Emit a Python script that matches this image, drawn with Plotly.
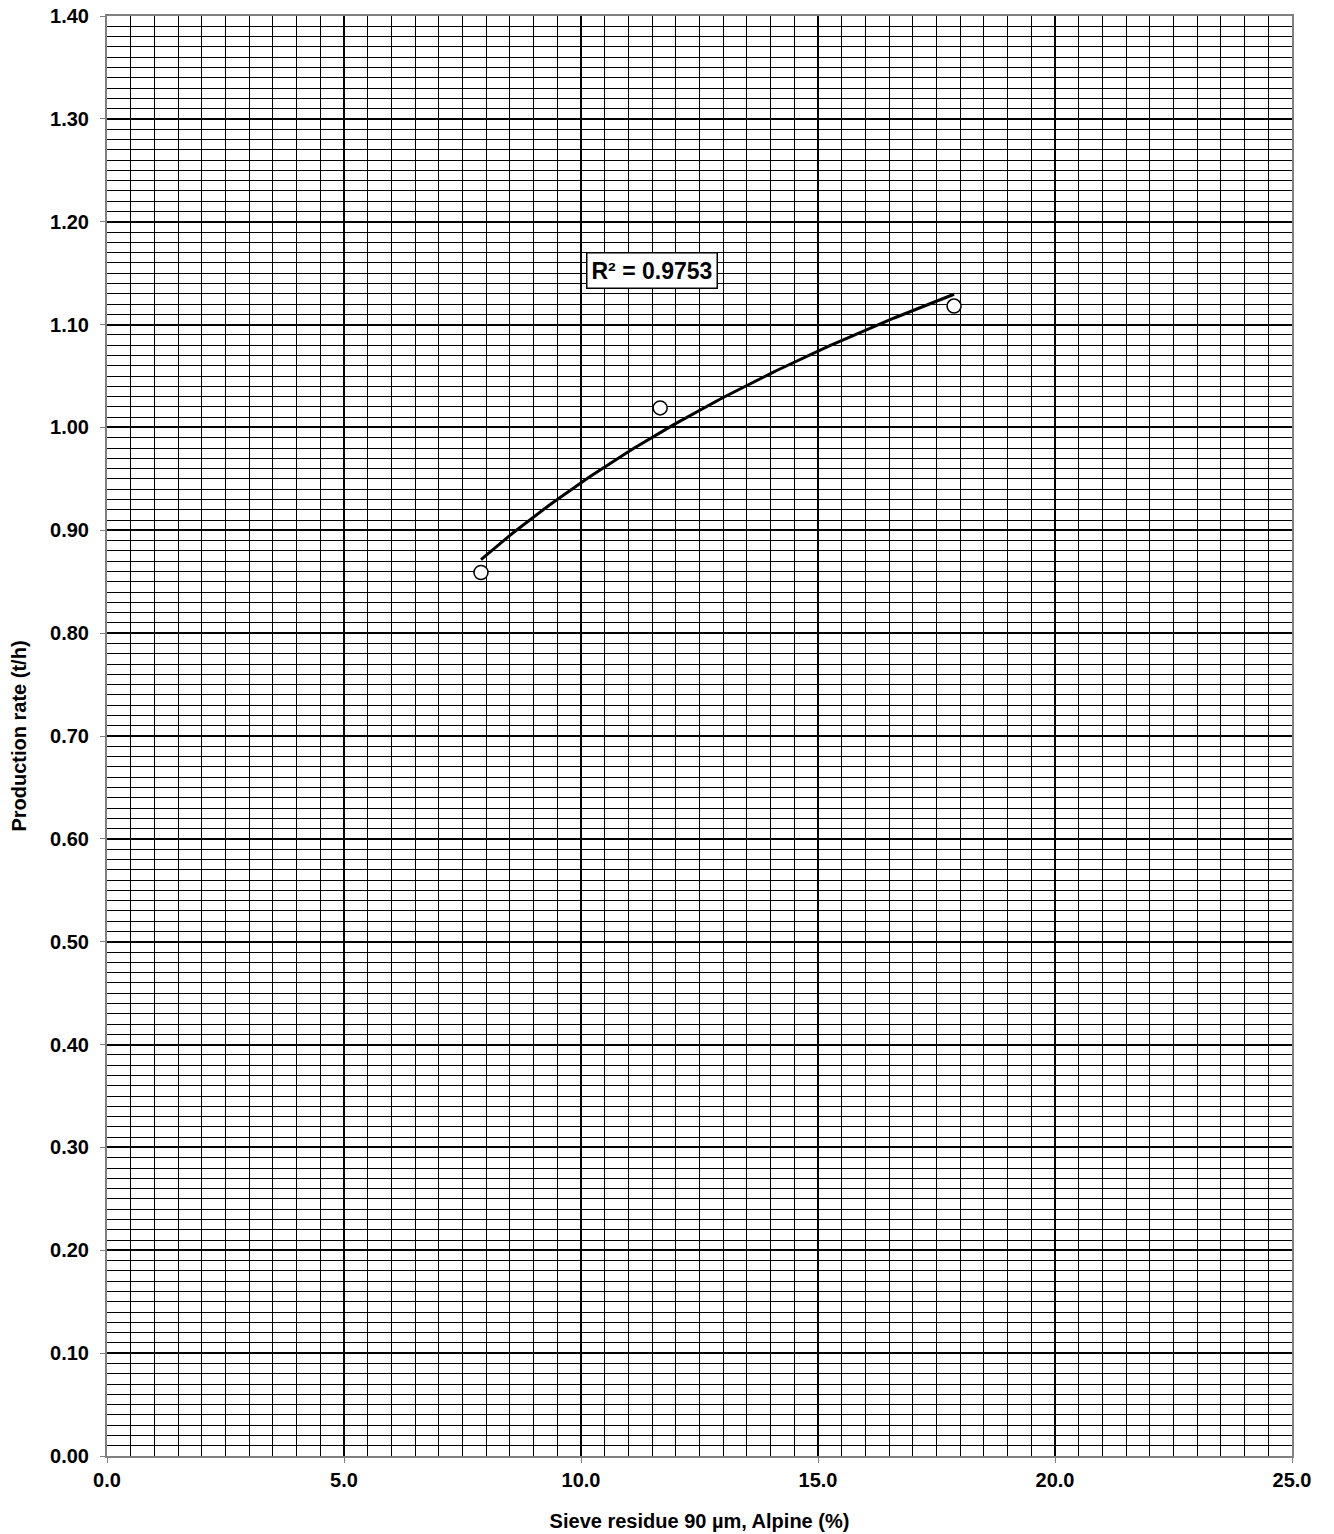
import numpy as np
import plotly.graph_objects as go

# Data
sieve_residue = [7.89, 11.67, 17.87]
production_rate = [0.859, 1.019, 1.118]
r2_label = "R² = 0.9753"
x_ticks = [0, 5, 10, 15, 20, 25]
y_ticks = [round(0.1 * i, 2) for i in range(15)]

# Logarithmic trendline (Excel-style)
lx = np.log(sieve_residue)
a, b = np.polyfit(lx, production_rate, 1)
tx = np.linspace(min(sieve_residue), max(sieve_residue), 100)
ty = a * np.log(tx) + b

FONT = "Liberation Sans, Arial, sans-serif"
BOLD20 = dict(family=FONT, size=20, color="black", weight="bold")

fig = go.Figure()
fig.add_trace(go.Scatter(x=tx, y=ty, mode="lines",
                         line=dict(color="black", width=3), showlegend=False,
                         hoverinfo="skip"))
fig.add_trace(go.Scatter(x=sieve_residue, y=production_rate, mode="markers",
                         marker=dict(symbol="circle", size=14, color="white",
                                     line=dict(color="black", width=1.5)),
                         showlegend=False))

fig.add_annotation(x=11.50, y=1.153, xref="x", yref="y", text=r2_label,
                   showarrow=False, font=dict(family=FONT, size=23, color="black", weight="bold"),
                   bgcolor="white", bordercolor="black", borderwidth=1.5, borderpad=4)

fig.update_xaxes(range=[0, 25], tickvals=x_ticks,
                 ticktext=[f"{v:.1f}" for v in x_ticks],
                 showgrid=True, gridcolor="black", gridwidth=2,
                 minor=dict(dtick=0.5, showgrid=True, gridcolor="black", gridwidth=1, ticks=""),
                 showline=True, linecolor="#808080", linewidth=2, mirror=True,
                 ticks="outside", ticklen=5, tickcolor="#808080",
                 tickfont=BOLD20,
                 title=dict(text="Sieve residue 90 µm, Alpine (%)", standoff=24, font=BOLD20),
                 zeroline=False, automargin=False)
fig.update_yaxes(range=[0, 1.4], tickvals=y_ticks,
                 ticktext=[f"{v:.2f}" for v in y_ticks],
                 showgrid=True, gridcolor="black", gridwidth=2,
                 minor=dict(dtick=0.01, showgrid=True, gridcolor="black", gridwidth=1, ticks=""),
                 showline=True, linecolor="#808080", linewidth=2, mirror=True,
                 ticks="outside", ticklen=5, tickcolor="#808080",
                 tickfont=BOLD20, ticklabelstandoff=7,
                 title=dict(text="Production rate (t/h)", standoff=18, font=BOLD20),
                 zeroline=False, automargin=False)

fig.update_layout(width=1334, height=1534,
                  margin=dict(l=107, r=42, t=16, b=78),
                  plot_bgcolor="white", paper_bgcolor="white",
                  font=dict(family=FONT))

fig.write_html("out.html", config={"displayModeBar": False},
               post_script="document.body.style.margin='0px';")
